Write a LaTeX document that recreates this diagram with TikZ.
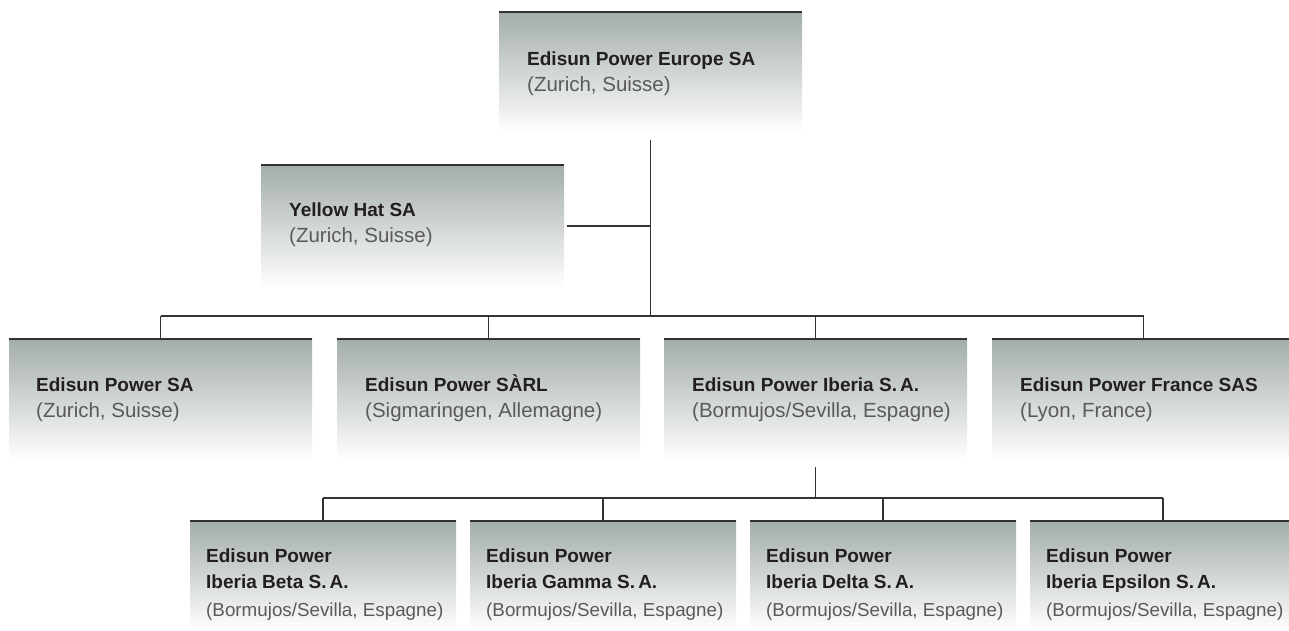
\documentclass[tikz,border=0pt]{standalone}
\usepackage{fontspec}
\setmainfont{Liberation Sans}
\definecolor{boxtop}{HTML}{A3ADAB}
\definecolor{linec}{HTML}{333333}
\definecolor{namec}{HTML}{231F20}
\definecolor{addrc}{HTML}{5A5A5A}
\tikzset{
  box/.style={rectangle, inner sep=0pt, outer sep=0pt, minimum width=303pt, minimum height=121pt,
    top color=boxtop, bottom color=white, anchor=north west},
  smallbox/.style={box, minimum width=266pt, minimum height=109pt},
  topline/.style={draw=linec, line width=2pt},
  conn/.style={draw=linec, line width=1.3pt},
  nm/.style={anchor=base west, inner sep=0pt, text=namec, font=\fontsize{19}{25}\selectfont\bfseries},
  ad/.style={anchor=base west, inner sep=0pt, text=addrc, font=\fontsize{20.5}{25}\selectfont},
  ads/.style={anchor=base west, inner sep=0pt, text=addrc, font=\fontsize{18.8}{25}\selectfont},
}
\begin{document}
\begin{tikzpicture}[x=1pt, y=-1pt]
\useasboundingbox (0,0) rectangle (1289,630);
% boxes
\node[box] (e) at (499,12) {};
\node[box, minimum height=122pt] (y) at (261,165) {};
\node[box] (a) at (9,339) {};
\node[box] (b) at (337,339) {};
\node[box] (c) at (664,339) {};
\node[box] (d) at (992,339) {};
\node[smallbox] (c1) at (190,521) {};
\node[smallbox] (c2) at (470,521) {};
\node[smallbox] (c3) at (750,521) {};
\node[smallbox] (c4) at (1030,521) {};
% top lines
\foreach \n in {e,y,a,b,c,d,c1,c2,c3,c4}{
  \draw[topline] (\n.north west) -- (\n.north east);
}
% texts
\node[nm] (et1) at ([shift={(28,53)}]e.north west) {Edisun Power Europe SA};
\node[ad] (et2) at ([shift={(28,79)}]e.north west) {(Zurich, Suisse)};
\node[nm] (yt1) at ([shift={(28,51)}]y.north west) {Yellow Hat SA};
\node[ad] (yt2) at ([shift={(28,77)}]y.north west) {(Zurich, Suisse)};
\node[nm] (at1) at ([shift={(27,52)}]a.north west) {Edisun Power SA};
\node[ad] (at2) at ([shift={(27,78)}]a.north west) {(Zurich, Suisse)};
\node[nm] (bt1) at ([shift={(28,52)}]b.north west) {Edisun Power SÀRL};
\node[ad] (bt2) at ([shift={(28,78)}]b.north west) {(Sigmaringen, Allemagne)};
\node[nm] (ct1) at ([shift={(28,52)}]c.north west) {Edisun Power Iberia S.\,A.};
\node[ad] (ct2) at ([shift={(28,78)}]c.north west) {(Bormujos/Sevilla, Espagne)};
\node[nm] (dt1) at ([shift={(28,52)}]d.north west) {Edisun Power France SAS};
\node[ad] (dt2) at ([shift={(28,78)}]d.north west) {(Lyon, France)};
\foreach \n/\t in {c1/Beta, c2/Gamma, c3/Delta, c4/Epsilon}{
  \node[nm] (\n t1) at ([shift={(16,41)}]\n.north west) {Edisun Power};
  \node[nm] (\n t2) at ([shift={(16,67)}]\n.north west) {Iberia \t\ S.\,A.};
  \node[ads] (\n t3) at ([shift={(16,95)}]\n.north west) {(Bormujos/Sevilla, Espagne)};
}
% connectors
\coordinate (bus1) at (650,316);
\coordinate (bus2) at (816,498);
\draw[conn] ([shift={(0,7)}]e.south) -- (e.south |- bus1);
\draw[conn] ([shift={(3,0)}]y.east) -- (y.east -| e.south);
\draw[conn] (a.north |- bus1) -- (d.north |- bus1);
\foreach \n in {a,b,c,d}{ \draw[conn] (\n.north |- bus1) -- (\n.north); }
\draw[conn] ([shift={(0,7)}]c.south) -- (c.south |- bus2);
\draw[conn] (c1.north |- bus2) -- (c4.north |- bus2);
\foreach \n in {c1,c2,c3,c4}{ \draw[conn] (\n.north |- bus2) -- (\n.north); }
\end{tikzpicture}
\end{document}
